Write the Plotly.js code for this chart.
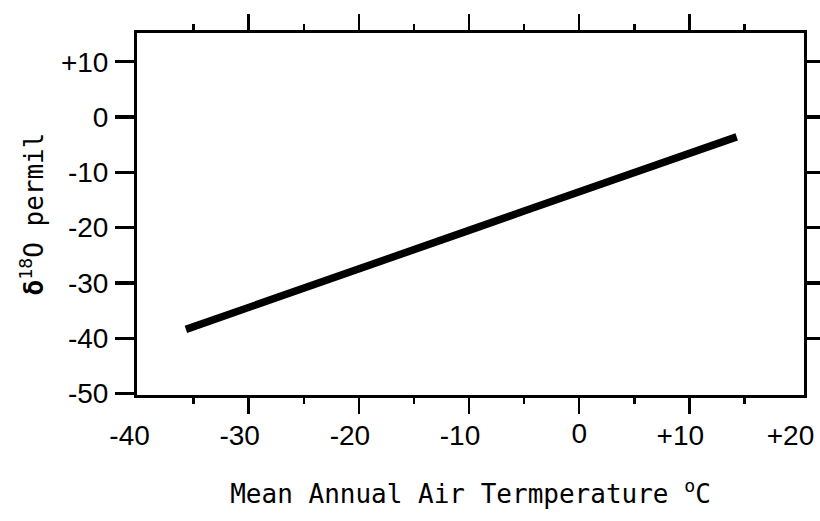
<!DOCTYPE html>
<html>
<head>
<meta charset="utf-8">
<script src="https://cdn.plot.ly/plotly-3.0.1.min.js"></script>
<style>html,body{margin:0;padding:0;background:#fff;}#chart{width:820px;height:521px;}</style>
</head>
<body>
<div id="chart"></div>
<script>
// Data
const temperatureC = [-35.7, -30, -25, -20, -15, -10, -5, 0, 5, 10, 14.3];
const delta18O    = [-38.4, -34.5, -31.0, -27.6, -24.0, -20.5, -17.0, -13.6, -10.1, -6.6, -3.6];

const xSignedVals = [-40, -30, -20, -10, 10, 20];
const xSignedText = ['-40', '-30', '-20', '-10', '+10', '+20'];
const xZeroVals = [0];
const xZeroText = ['0'];
const xMajorTicks = [-30, -20, -10, 0, 10];
const xMinorTicks = [-35, -25, -15, -5, 5, 15];
const yTickVals = [-50, -40, -30, -20, -10, 0, 10];
const yTickText = ['-50', '-40', '-30', '-20', '-10', '0', '+10'];
const yRightTicks = [-40, -30, -20, -10, 0, 10];

const xRange = [-40.14, 20.41];
const yRange = [-50.27, 15.19];

const labelFont = {family: 'Liberation Sans, Arial, sans-serif', size: 28, color: '#000'};
const monoFont = {family: 'DejaVu Sans Mono, monospace', size: 26, color: '#000'};

const traces = [
  {x: temperatureC, y: delta18O, type: 'scatter', mode: 'lines',
   line: {color: '#000', width: 7.5, shape: 'linear'}, xaxis: 'x', yaxis: 'y', hoverinfo: 'skip'},
  {x: [xRange[0]], y: [yRange[0]], type: 'scatter', mode: 'markers', marker: {opacity: 0},
   xaxis: 'x2', yaxis: 'y2', hoverinfo: 'skip'},
  {x: [xRange[0]], y: [yRange[0]], type: 'scatter', mode: 'markers', marker: {opacity: 0},
   xaxis: 'x3', yaxis: 'y', hoverinfo: 'skip'}
];

const hiddenTick = {ticks: 'outside', ticklen: 13, tickcolor: 'rgba(0,0,0,0)', tickfont: labelFont,
  showgrid: false, zeroline: false, ticklabeloverflow: 'allow'};

const layout = {
  width: 820, height: 521,
  margin: {l: 137, r: 16, t: 33, b: 126, pad: 0},
  paper_bgcolor: '#fff', plot_bgcolor: '#fff',
  showlegend: false,
  xaxis: Object.assign({
    range: xRange, tickmode: 'array', tickvals: xSignedVals, ticktext: xSignedText,
    ticklabelshift: -9,
    showline: true, linewidth: 3, linecolor: '#000', mirror: true,
    title: {text: 'Mean Annual Air Termperature <sup>o</sup>C', font: monoFont, standoff: 36}
  }, hiddenTick),
  xaxis3: Object.assign({
    overlaying: 'x', anchor: 'y', range: xRange, tickmode: 'array', tickvals: xZeroVals, ticktext: xZeroText,
    showline: false
  }, hiddenTick),
  yaxis: {
    range: yRange, tickmode: 'array', tickvals: yTickVals, ticktext: yTickText,
    ticks: 'outside', ticklen: 19, tickwidth: 3.3, tickcolor: '#000', tickfont: labelFont,
    ticklabelstandoff: 1,
    showline: true, linewidth: 3, linecolor: '#000', mirror: true,
    showgrid: false, zeroline: false,
    title: {text: '<b>δ</b><sup>18</sup>O permil', font: {family: 'DejaVu Sans Mono, monospace', size: 26, color: '#000'}, standoff: 10}
  },
  xaxis2: {
    overlaying: 'x', anchor: 'y', range: xRange, tickmode: 'array', tickvals: xMajorTicks,
    ticks: 'outside', ticklen: 18, tickwidth: 2.5, tickcolor: '#000', mirror: 'ticks',
    showticklabels: false, showgrid: false, zeroline: false, showline: false,
    minor: {tickmode: 'array', tickvals: xMinorTicks, ticks: 'outside', ticklen: 8, tickwidth: 2.5, tickcolor: '#000', showgrid: false}
  },
  yaxis2: {
    overlaying: 'y', anchor: 'x', side: 'right', range: yRange, tickmode: 'array', tickvals: yRightTicks,
    ticks: 'outside', ticklen: 17, tickwidth: 3.3, tickcolor: '#000',
    showticklabels: false, showgrid: false, zeroline: false, showline: false
  }
};

Plotly.newPlot('chart', traces, layout, {displayModeBar: false, staticPlot: true});
</script>
</body>
</html>
